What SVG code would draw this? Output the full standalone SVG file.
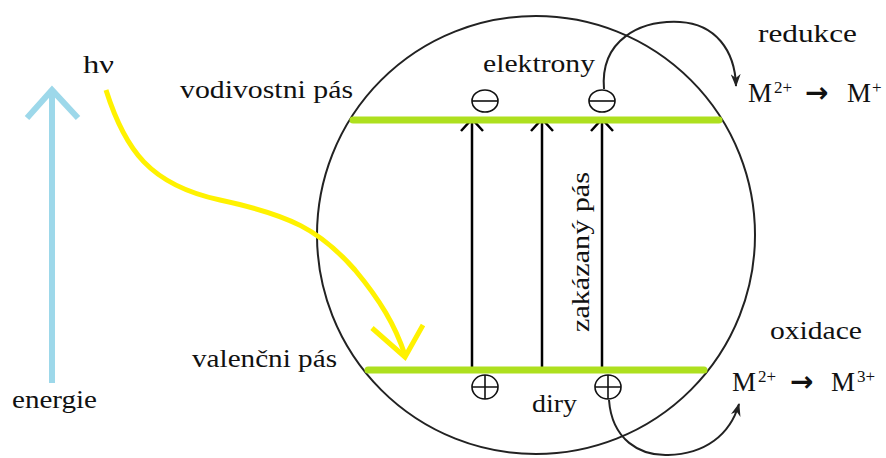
<svg xmlns="http://www.w3.org/2000/svg" width="886" height="458" viewBox="0 0 886 458">
<style>
  .t { font-family: "Liberation Serif", "DejaVu Serif", serif; font-size: 25px; fill: #111; }
  .m { font-family: "Liberation Serif", "DejaVu Serif", serif; font-size: 27px; fill: #111; }
  .sup { font-size: 17px; }
  .arr { font-family: "DejaVu Sans", sans-serif; font-weight: bold; font-size: 28px; }
  .band { stroke: #aee01e; stroke-width: 7; stroke-linecap: round; fill: none; }
  .vline { stroke: #000; stroke-width: 2.5; fill: none; }
  .curve { stroke: #222; stroke-width: 2; fill: none; }
  .sign { fill: #fff; stroke: #111; stroke-width: 1.6; }
</style>
<defs>
  <marker id="barb" markerWidth="14" markerHeight="10" refX="12" refY="5" orient="auto" markerUnits="userSpaceOnUse">
    <path d="M0,0 L13,5 L0,10 L4,5 Z" fill="#222"/>
  </marker>
</defs>

<g id="particle">
  <circle cx="536" cy="235" r="219" fill="none" stroke="#222" stroke-width="2"/>
</g>

<g id="connectors">
  <path d="M52,383 L52,90 M27,118 L52,90 L78,118" stroke="#9dd8ea" stroke-width="6" fill="none" stroke-linecap="butt" stroke-linejoin="miter"/>
  <path d="M106,90 C125,150 150,185 220,200 C290,215 320,230 355,270 C380,300 395,325 405,355" stroke="#fff200" stroke-width="5" fill="none"/>
  <path d="M372,328 L405,357 L423,325" stroke="#fff200" stroke-width="5" fill="none" stroke-linejoin="miter"/>
  <path class="vline" d="M472,370 L472,120 M461,131 L472,119 L483,131"/>
  <path class="vline" d="M542,370 L542,120 M531,131 L542,119 L553,131"/>
  <path class="vline" d="M602,370 L602,120 M591,131 L602,119 L613,131"/>
  <path class="curve" d="M604,89 C600,40 640,20 680,22 C715,24 735,50 736,86" marker-end="url(#barb)"/>
  <path class="curve" d="M609,400 C612,440 640,456 668,455 C705,454 730,435 739,404" marker-end="url(#barb)"/>
</g>

<g id="conduction-band">
  <line class="band" x1="353" y1="120" x2="719" y2="120"/>
  <text class="t" x="180" y="98" textLength="173" lengthAdjust="spacingAndGlyphs">vodivostni pás</text>
</g>
<g id="valence-band">
  <line class="band" x1="368" y1="370" x2="704" y2="370"/>
  <text class="t" x="192" y="367" textLength="145" lengthAdjust="spacingAndGlyphs">valenčni pás</text>
</g>

<g id="electrons">
  <text class="t" x="483" y="72" textLength="112" lengthAdjust="spacingAndGlyphs">elektrony</text>
  <ellipse class="sign" cx="485" cy="101" rx="13" ry="11"/>
  <line x1="472" y1="101" x2="498" y2="101" stroke="#111" stroke-width="1.6"/>
  <ellipse class="sign" cx="602" cy="101" rx="13" ry="11"/>
  <line x1="589" y1="101" x2="615" y2="101" stroke="#111" stroke-width="1.6"/>
</g>

<g id="holes">
  <ellipse class="sign" cx="485" cy="387" rx="13" ry="12"/>
  <path d="M472,387 L498,387 M485,375 L485,399" stroke="#111" stroke-width="1.6"/>
  <ellipse class="sign" cx="608" cy="387" rx="13" ry="12"/>
  <path d="M595,387 L621,387 M608,375 L608,399" stroke="#111" stroke-width="1.6"/>
  <text class="t" x="532" y="412" textLength="45" lengthAdjust="spacingAndGlyphs">diry</text>
</g>

<g id="band-gap">
  <text class="t" transform="translate(589,332) rotate(-90)" x="0" y="0" textLength="160" lengthAdjust="spacingAndGlyphs">zakázaný pás</text>
</g>

<g id="energy">
  <text class="t" x="12" y="408" textLength="85" lengthAdjust="spacingAndGlyphs">energie</text>
</g>
<g id="photon">
  <text class="t" x="83" y="73" textLength="31" lengthAdjust="spacingAndGlyphs">hν</text>
</g>

<g id="reduction">
  <text class="t" x="758" y="42" textLength="99" lengthAdjust="spacingAndGlyphs">redukce</text>
  <text class="m" y="102"><tspan x="748">M</tspan><tspan class="sup" x="774" y="93">2+</tspan><tspan class="arr" x="805" y="102">→</tspan><tspan x="847" y="102">M</tspan><tspan class="sup" x="872" y="93">+</tspan></text>
</g>

<g id="oxidation">
  <text class="t" x="770" y="339" textLength="92" lengthAdjust="spacingAndGlyphs">oxidace</text>
  <text class="m" y="391"><tspan x="732">M</tspan><tspan class="sup" x="758" y="382">2+</tspan><tspan class="arr" x="790" y="391">→</tspan><tspan x="831" y="391">M</tspan><tspan class="sup" x="857" y="382">3+</tspan></text>
</g>
</svg>
